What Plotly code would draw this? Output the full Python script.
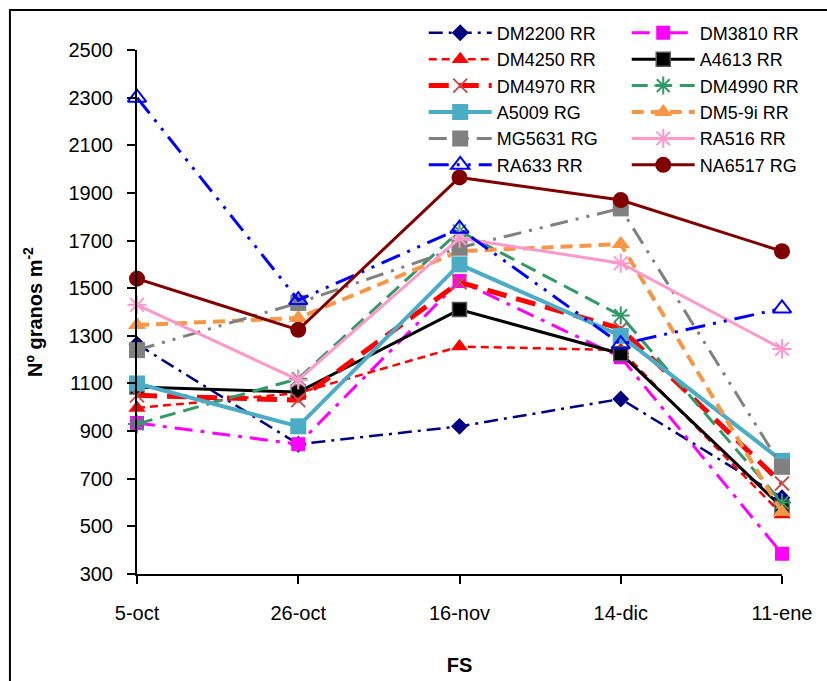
import plotly.graph_objects as go

dates = ["5-oct", "26-oct", "16-nov", "14-dic", "11-ene"]

dm2200 = [1265, 845, 920, 1035, 620]
dm3810 = [934, 845, 1530, 1210, 385]
dm4250 = [997, 1060, 1255, 1240, 550]
a4613 = [1085, 1064, 1410, 1225, 580]
dm4970 = [1050, 1030, 1525, 1330, 680]
dm4990 = [930, 1120, 1740, 1385, 600]
a5009 = [1100, 920, 1600, 1300, 775]
dm59i = [1345, 1375, 1655, 1685, 560]
mg5631 = [1240, 1438, 1670, 1835, 750]
ra516 = [1430, 1115, 1710, 1605, 1245]
ra633 = [2300, 1450, 1750, 1265, 1415]
na6517 = [1540, 1325, 1965, 1870, 1655]

y_ticks = list(range(300, 2501, 200))

series = [
    ("DM2200 RR", dm2200, dict(color="#000080", width=2.5, dash="14px,6px,3px,6px"),
     dict(symbol="diamond", size=13, color="#000080")),
    ("DM3810 RR", dm3810, dict(color="#FF00FF", width=3, dash="18px,8px,4px,8px"),
     dict(symbol="square", size=14, color="#FF00FF")),
    ("DM4250 RR", dm4250, dict(color="#FF0000", width=2.5, dash="8px,5px"),
     dict(symbol="triangle-up", size=15, color="#FF0000")),
    ("A4613 RR", a4613, dict(color="#000000", width=3),
     dict(symbol="square", size=14, color="#000000", line=dict(color="#555555", width=1.5))),
    ("DM4970 RR", dm4970, dict(color="#FF0000", width=5, dash="20px,10px"),
     dict(symbol="x-thin-open", size=14, color="#C0504D", line=dict(color="#C0504D", width=2))),
    ("DM4990 RR", dm4990, dict(color="#339966", width=3, dash="16px,8px"),
     dict(symbol="asterisk-open", size=15, color="#339966", line=dict(color="#339966", width=2))),
    ("A5009 RG", a5009, dict(color="#4BACC6", width=4),
     dict(symbol="square", size=16, color="#4BACC6")),
    ("DM5-9i RR", dm59i, dict(color="#F79646", width=4, dash="12px,7px"),
     dict(symbol="triangle-up", size=16, color="#F79646")),
    ("MG5631 RG", mg5631, dict(color="#808080", width=3, dash="18px,8px,3px,8px,3px,8px"),
     dict(symbol="square", size=16, color="#808080")),
    ("RA516 RR", ra516, dict(color="#FF99CC", width=3),
     dict(symbol="asterisk-open", size=16, color="#FF99CC", line=dict(color="#FF99CC", width=2))),
    ("RA633 RR", ra633, dict(color="#0000FF", width=3, dash="20px,8px,3px,8px,3px,8px"),
     dict(symbol="triangle-up-open", size=16, color="#0000FF", line=dict(color="#0000FF", width=2))),
    ("NA6517 RG", na6517, dict(color="#800000", width=3),
     dict(symbol="circle", size=16, color="#800000")),
]

fig = go.Figure()
for name, vals, ln, mk in series:
    fig.add_trace(go.Scatter(x=dates, y=vals, name=name, mode="lines+markers",
                             line=ln, marker=mk, cliponaxis=False))

font = "Liberation Sans, Arial, sans-serif"
fig.update_layout(
    width=827, height=681,
    margin=dict(l=137, r=45, t=50, b=107, autoexpand=False),
    paper_bgcolor="white", plot_bgcolor="white",
    font=dict(family=font, size=20, color="black"),
    showlegend=True,
    legend=dict(orientation="h", x=1.074, xanchor="right", y=0.745, yanchor="bottom",
                entrywidth=125, entrywidthmode="pixels", bgcolor="rgba(0,0,0,0)",
                font=dict(size=18), tracegroupgap=0, itemwidth=63),
    xaxis=dict(type="category", range=[0, 4], showline=True, linecolor="black", linewidth=2,
               ticks="outside", ticklen=8, tickwidth=2, tickcolor="black", showgrid=False,
               zeroline=False, tickfont=dict(size=20), ticklabelstandoff=12,
               title=dict(text="<b>FS</b>", font=dict(size=20), standoff=35)),
    yaxis=dict(range=[300, 2500], tickvals=y_ticks, showline=True, linecolor="black", linewidth=2,
               ticks="outside", ticklen=8, tickwidth=2, tickcolor="black", showgrid=False,
               zeroline=False, tickfont=dict(size=20), ticklabelstandoff=10,
               title=dict(text="<b>Nº granos m<sup>-2</sup></b>", font=dict(size=20), standoff=21)),
    shapes=[dict(type="rect", xref="paper", yref="paper", x0=-0.197, x1=1.075, y0=-0.5, y1=1.0763,
                 line=dict(color="black", width=2), fillcolor="rgba(0,0,0,0)", layer="below")],
)

fig.write_html("out.html")
